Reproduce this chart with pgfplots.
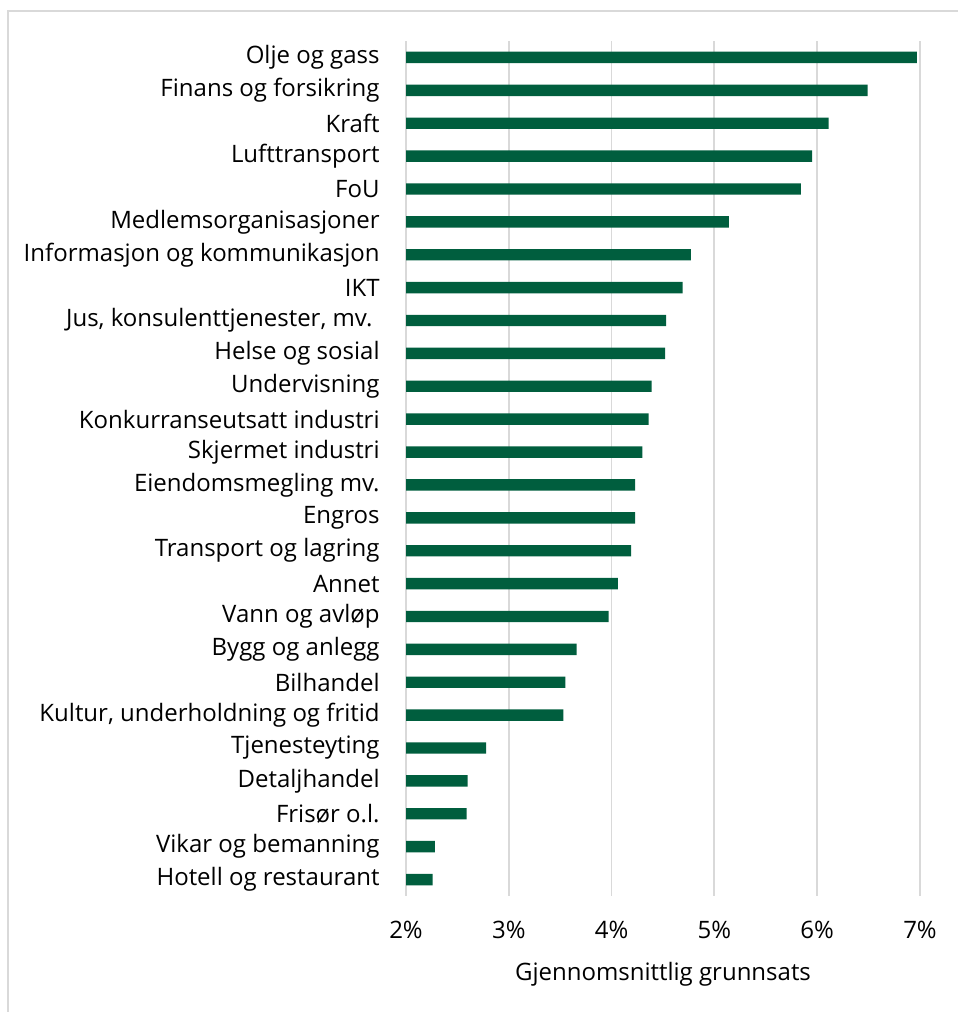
\documentclass[border=0pt]{standalone}
\usepackage{fontspec}
\setmainfont{Open Sans}
\usepackage{pgfplots}
\pgfplotsset{compat=1.18}
\definecolor{bargreen}{RGB}{0,94,62}
\definecolor{gridgrey}{RGB}{217,217,217}
\begin{document}
\begin{tikzpicture}
\useasboundingbox (0,0) rectangle (479pt,506pt);
\draw[gridgrey, line width=0.9pt] (4pt,0) -- (4pt,500.5pt) -- (479pt,500.5pt);
\begin{axis}[
  at={(203pt,58pt)}, anchor=south west,
  scale only axis, width=257pt, height=427.5pt,
  xbar, bar width=5.7pt,
  xmin=2, xmax=7, ymin=-0.5, ymax=25.5,
  xtick={2,3,4,5,6,7},
  xticklabels={2\%,3\%,4\%,5\%,6\%,7\%},
  ytick={0,...,25},
  yticklabels={Hotell og restaurant, Vikar og bemanning, Frisør o.l., Detaljhandel, Tjenesteyting, {Kultur, underholdning og fritid}, Bilhandel, Bygg og anlegg, Vann og avløp, Annet, Transport og lagring, Engros, Eiendomsmegling mv., Skjermet industri, Konkurranseutsatt industri, Undervisning, Helse og sosial, {Jus, konsulenttjenester, mv.\hspace*{0.3em}}, IKT, Informasjon og kommunikasjon, Medlemsorganisasjoner, FoU, Lufttransport, Kraft, Finans og forsikring, Olje og gass},
  xmajorgrids, grid style={gridgrey, line width=0.9pt},
  axis line style={draw=none},
  major tick length=0pt,
  tick label style={font=\fontsize{12}{14}\selectfont, text=black},
  xticklabel style={anchor=base, yshift=-21.5pt, inner sep=0pt},
  yticklabel style={anchor=east, xshift=-13pt, inner sep=0pt},
  xlabel={Gjennomsnittlig grunnsats},
  xlabel style={at={(axis description cs:0.5,0)}, anchor=base, yshift=-42pt, inner sep=0pt, font=\fontsize{12}{14}\selectfont},
]
\addplot[fill=bargreen, draw=none] coordinates {
(2.26,0) (2.28,1) (2.59,2) (2.60,3) (2.78,4) (3.53,5) (3.55,6) (3.66,7) (3.97,8) (4.06,9) (4.19,10) (4.23,11) (4.23,12) (4.30,13) (4.36,14) (4.39,15) (4.52,16) (4.53,17) (4.69,18) (4.77,19) (5.14,20) (5.84,21) (5.95,22) (6.11,23) (6.49,24) (6.97,25)
};
\end{axis}
\end{tikzpicture}
\end{document}
